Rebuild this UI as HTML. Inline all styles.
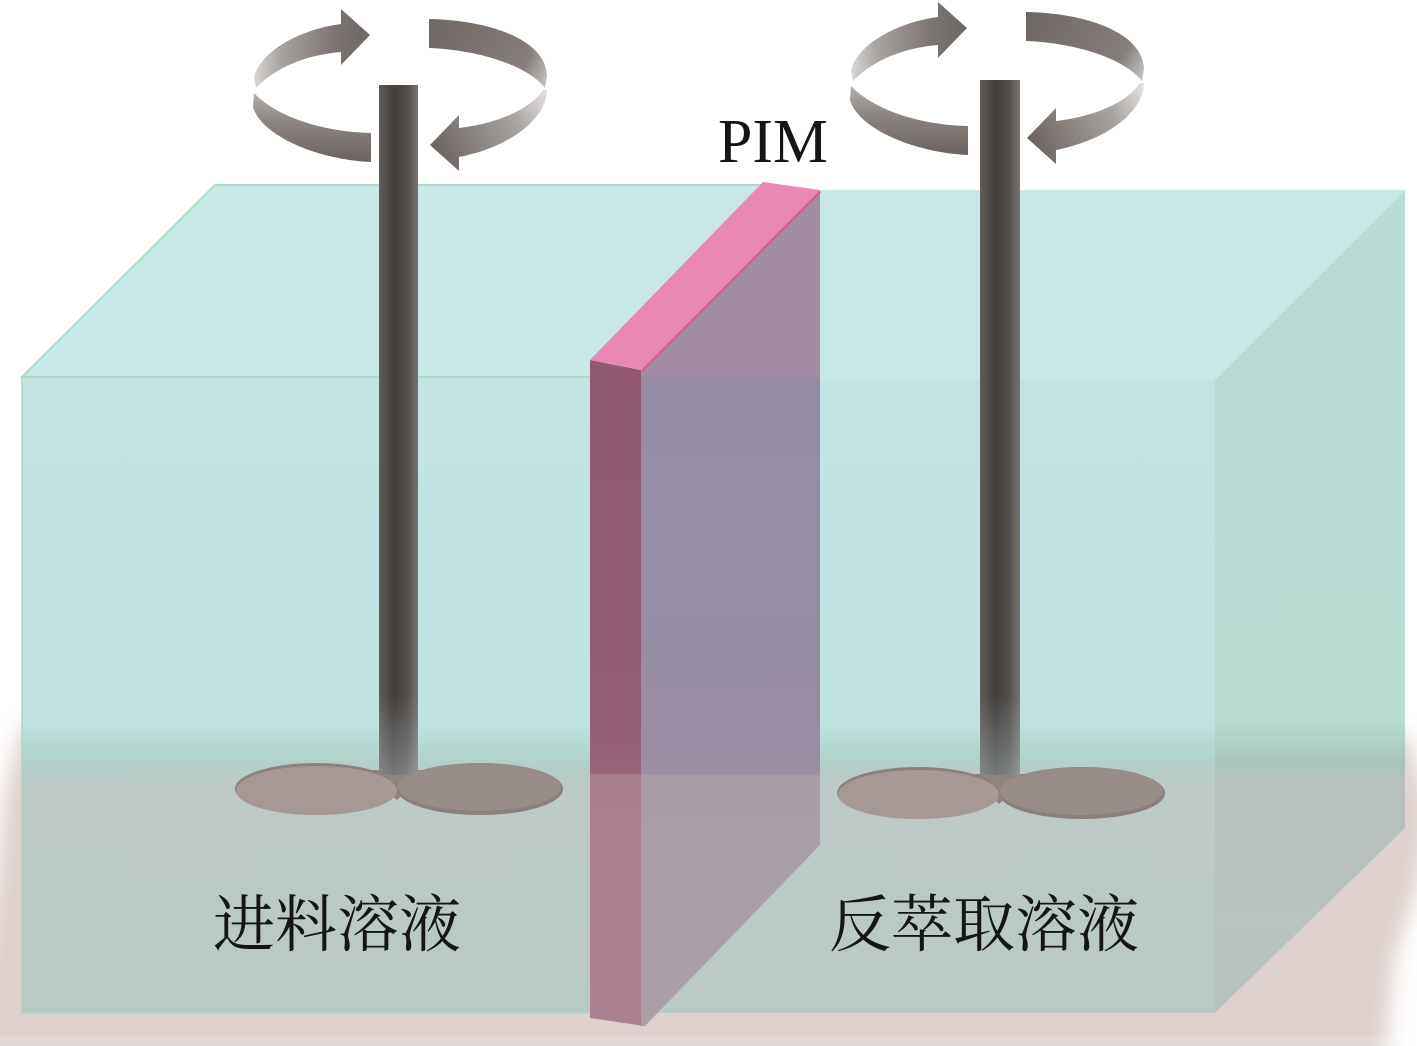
<!DOCTYPE html>
<html><head><meta charset="utf-8"><style>
html,body{margin:0;padding:0;background:#fff}
svg{display:block}
text{font-family:"Liberation Serif","Noto Serif CJK SC",serif;fill:#151515}
</style></head><body>
<svg width="1417" height="1046" viewBox="0 0 1417 1046" xmlns="http://www.w3.org/2000/svg">
<defs>
<filter id="b" x="-10%" y="-20%" width="120%" height="140%"><feGaussianBlur stdDeviation="10"/></filter>
<linearGradient id="front" x1="0" y1="0" x2="0" y2="1046" gradientUnits="userSpaceOnUse">
<stop offset="0" stop-color="#c4e4e4"/><stop offset=".693" stop-color="#c0e2e1"/><stop offset=".715" stop-color="#b3d8d0"/><stop offset=".733" stop-color="#b5cdc8"/><stop offset=".75" stop-color="#bcc9c6"/><stop offset="1" stop-color="#bac9c6"/>
</linearGradient>
<linearGradient id="side" x1="0" y1="0" x2="0" y2="1046" gradientUnits="userSpaceOnUse">
<stop offset="0" stop-color="#b8ddd6"/><stop offset=".69" stop-color="#b8dcd2"/><stop offset=".727" stop-color="#a9c5be"/><stop offset=".748" stop-color="#b8c0bd"/><stop offset="1" stop-color="#b7c3c0"/>
</linearGradient>
<linearGradient id="mf" x1="0" y1="360" x2="0" y2="1025" gradientUnits="userSpaceOnUse">
<stop offset="0" stop-color="#915a70"/><stop offset=".55" stop-color="#955e74"/><stop offset=".62" stop-color="#96667a"/><stop offset=".625" stop-color="#a87f8d"/><stop offset="1" stop-color="#aa818f"/>
</linearGradient>
<linearGradient id="ms" x1="0" y1="190" x2="0" y2="1026" gradientUnits="userSpaceOnUse">
<stop offset="0" stop-color="#a38ba3"/><stop offset=".22" stop-color="#a38ba3"/><stop offset=".225" stop-color="#958ca4"/><stop offset=".66" stop-color="#978ca2"/><stop offset=".698" stop-color="#9b8fa0"/><stop offset=".702" stop-color="#a99ea8"/><stop offset="1" stop-color="#ab9fa8"/>
</linearGradient>
<linearGradient id="shaft" x1="0" y1="0" x2="1" y2="0">
<stop offset="0" stop-color="#625c59"/><stop offset=".38" stop-color="#423f3d"/><stop offset=".72" stop-color="#524e4c"/><stop offset="1" stop-color="#787371"/>
</linearGradient>
<linearGradient id="fade" x1="0" y1="0" x2="0" y2="1">
<stop offset="0" stop-color="#b9c9c6" stop-opacity="0"/><stop offset="1" stop-color="#b9c9c6" stop-opacity=".42"/>
</linearGradient>
<linearGradient id="g1" x1="253" y1="0" x2="370" y2="0" gradientUnits="userSpaceOnUse">
<stop offset="0" stop-color="#dcdad8"/><stop offset=".22" stop-color="#aaa5a2"/><stop offset=".7" stop-color="#7c7471"/><stop offset="1" stop-color="#6f6764"/>
</linearGradient>
<linearGradient id="g2" x1="0" y1="93" x2="0" y2="160" gradientUnits="userSpaceOnUse">
<stop offset="0" stop-color="#b4b0ad"/><stop offset=".45" stop-color="#8a8380"/><stop offset="1" stop-color="#6d6562"/>
</linearGradient>
<linearGradient id="g3" x1="429" y1="19" x2="547" y2="85" gradientUnits="userSpaceOnUse">
<stop offset="0" stop-color="#6f6764"/><stop offset=".78" stop-color="#857e7b"/><stop offset="1" stop-color="#c8c5c3"/>
</linearGradient>
<linearGradient id="g4" x1="547" y1="88" x2="430" y2="150" gradientUnits="userSpaceOnUse">
<stop offset="0" stop-color="#e6e4e3"/><stop offset=".32" stop-color="#aaa5a2"/><stop offset="1" stop-color="#6a625f"/>
</linearGradient>
<g id="rot">
<path d="M254,78 C258,55 295,30 341,24 L341,9 L370,35 L341,65 L341,52 C305,55 275,68 256,88 Z" fill="url(#g1)"/>
<path d="M254,93 C278,118 325,132 371,133 L371,162 C320,160 262,137 253,107 Z" fill="url(#g2)"/>
<path d="M429,19 C490,20 546,40 547,76 L545,88 C528,66 480,50 429,48 Z" fill="url(#g3)"/>
<path d="M547,90 C546,122 505,148 459,157 L459,171 L430,145 L459,115 L459,128 C495,124 530,110 543,90 Z" fill="url(#g4)"/>
</g>
<g id="pad">
<polygon points="365,770 430,770 397,800" fill="#8f8480"/>
<ellipse cx="316" cy="789" rx="81" ry="26" fill="#8b807d"/>
<ellipse cx="316.500" cy="790.500" rx="80.500" ry="24.500" fill="#a59895"/>
<ellipse cx="480" cy="789" rx="83" ry="26" fill="#8a7f7b"/>
<ellipse cx="479.500" cy="787" rx="81.500" ry="24" fill="#978c88"/>
</g>
</defs>

<rect width="1417" height="1046" fill="#fff"/>
<polygon points="22,725 4,790 -2,860 -30,1070 1385,1070 1395,960 1420,880 1430,810 1408,735" fill="#dfd2ce" filter="url(#b)"/>
<rect x="0" y="1036" width="1417" height="10" fill="#fff" opacity=".15"/>

<!-- left box -->
<polygon points="22,377 215,185 770,185 590,377" fill="#cae7e8"/>
<rect x="22" y="377" width="570" height="636" fill="url(#front)"/>
<polyline points="592,377 22,377 215,185 764,185" fill="none" stroke="#a9dcc3" stroke-width="2"/>
<polyline points="22,377 22,1013 592,1013" fill="none" stroke="#abd8c0" stroke-width="1.500"/>

<!-- right box -->
<polygon points="815,190 1405,190 1215,380 640,380" fill="#cae7e8"/>
<rect x="640" y="380" width="575" height="633" fill="url(#front)"/>
<polygon points="1215,380 1405,190 1405,828 1215,1013" fill="url(#side)"/>

<!-- paddles -->
<use href="#pad"/>
<use href="#pad" x="602" y="4"/>

<!-- shafts -->
<rect x="379" y="85" width="39" height="690" fill="url(#shaft)"/>
<rect x="980" y="80" width="40" height="695" fill="url(#shaft)"/>
<rect x="379" y="695" width="39" height="80" fill="url(#fade)"/>
<rect x="980" y="695" width="40" height="80" fill="url(#fade)"/>

<!-- rotation arrows -->
<use href="#rot"/>
<use href="#rot" x="597" y="-7"/>

<!-- membrane -->
<polygon points="640,370 820,190 820,845 645,1026 640,1026" fill="url(#ms)"/>
<polygon points="590,360 641,370 641,1026 645,1026 590,1018" fill="url(#mf)"/>
<polygon points="590,360 763,182 820,190 642,370" fill="#ea87b4"/>
<polyline points="642,371 820,192" fill="none" stroke="#c8678f" stroke-width="2.500"/>

<text x="718" y="162" font-size="62" textLength="110" lengthAdjust="spacingAndGlyphs">PIM</text>
<text x="213" y="946" font-size="62">进料溶液</text>
<text x="829" y="946" font-size="62">反萃取溶液</text>
</svg>
</body></html>
